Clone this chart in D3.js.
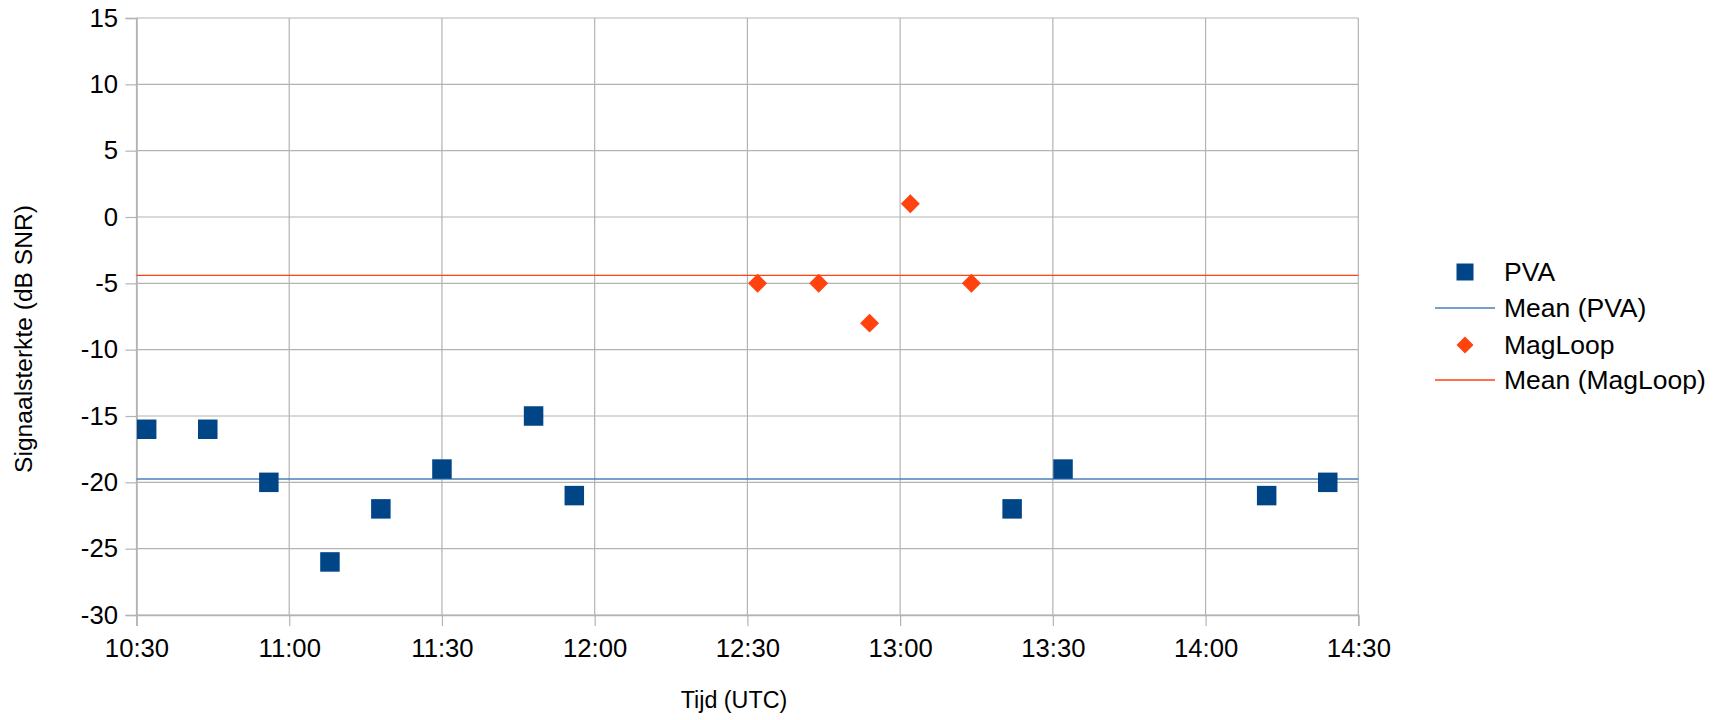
<!DOCTYPE html>
<html>
<head>
<meta charset="utf-8">
<script src="https://cdn.jsdelivr.net/npm/d3@7"></script>
<style>
  html, body { margin: 0; padding: 0; background: #fff; }
  svg { display: block; font-family: "Liberation Sans", Arial, sans-serif; }
</style>
</head>
<body>
<svg id="chart" width="1722" height="720"></svg>
<script>
// ---- data ----
const pvaTimes = ["10:32","10:44","10:56","11:08","11:18","11:30","11:48","11:56","13:22","13:32","14:12","14:24"];
const pvaValues = [-16,-16,-20,-26,-22,-19,-15,-21,-22,-19,-21,-20];
const magTimes = ["12:32","12:44","12:54","13:02","13:14"];
const magValues = [-5,-5,-8,1,-5];
const xTickLabels = ["10:30","11:00","11:30","12:00","12:30","13:00","13:30","14:00","14:30"];
const yTicks = [-30,-25,-20,-15,-10,-5,0,5,10,15];
const legendLabels = ["PVA","Mean (PVA)","MagLoop","Mean (MagLoop)"];

// ---- setup ----
const parse = s => { const [h,m] = s.split(":").map(Number); return new Date(Date.UTC(2020,0,1,h,m)); };
const svg = d3.select("#chart");
const L = 136.5, R = 1358.3, T = 18, B = 615;
const FS = 25.7;

const x = d3.scaleUtc().domain([parse("10:30"), parse("14:30")]).range([L, R]);
const y = d3.scaleLinear().domain([-30, 15]).range([B, T]);

const gridColor = "#b3b3b3";
const blue = "#004586", orange = "#ff420e";
const meanBlue = "#4a7ebb";

// grid
svg.append("g").selectAll("line").data(yTicks).join("line")
  .attr("x1", L).attr("x2", R).attr("y1", d => y(d)).attr("y2", d => y(d))
  .attr("stroke", gridColor).attr("stroke-width", 1.2);
svg.append("g").selectAll("line").data(xTickLabels.map(parse)).join("line")
  .attr("x1", d => x(d)).attr("x2", d => x(d)).attr("y1", T).attr("y2", B)
  .attr("stroke", gridColor).attr("stroke-width", 1.2);

// axes
const xAxis = d3.axisBottom(x).tickValues(xTickLabels.map(parse))
  .tickFormat(d3.utcFormat("%H:%M")).tickSize(11).tickPadding(13);
const gx = svg.append("g").attr("transform", `translate(0,${B})`).call(xAxis);
const yAxis = d3.axisLeft(y).tickValues(yTicks).tickFormat(d3.format("d")).tickSize(11).tickPadding(7.5);
const gy = svg.append("g").attr("transform", `translate(${L},0)`).call(yAxis);
[gx, gy].forEach(g => {
  g.select(".domain").attr("stroke", gridColor).attr("stroke-width", 1.6);
  g.selectAll(".tick line").attr("stroke", gridColor).attr("stroke-width", 1.2);
  g.selectAll(".tick text").attr("fill", "#000").style("font-size", FS + "px")
    .style("font-family", "'Liberation Sans', Arial, sans-serif");
});
gy.selectAll(".tick text").text(d => d < 0 ? "-" + Math.abs(d) : d);

// axis titles
svg.append("text").attr("x", 734).attr("y", 708).attr("text-anchor", "middle")
  .style("font-size", "23.3px").text("Tijd (UTC)");
svg.append("text").attr("transform", "translate(32,339) rotate(-90)").attr("text-anchor", "middle")
  .style("font-size", "24.6px").text("Signaalsterkte (dB SNR)");

// mean lines
const pvaMean = d3.mean(pvaValues), magMean = d3.mean(magValues);
svg.append("line").attr("x1", L).attr("x2", R).attr("y1", y(pvaMean)).attr("y2", y(pvaMean))
  .attr("stroke", meanBlue).attr("stroke-width", 1.6);
svg.append("line").attr("x1", L).attr("x2", R).attr("y1", y(magMean)).attr("y2", y(magMean))
  .attr("stroke", orange).attr("stroke-width", 1.4);

// points
const sq = d3.symbol(d3.symbolSquare, 380);
const dia = d3.symbol(d3.symbolSquare, 180);
svg.append("g").selectAll("path").data(pvaTimes.map((t,i) => [parse(t), pvaValues[i]])).join("path")
  .attr("d", sq).attr("fill", blue)
  .attr("transform", d => `translate(${x(d[0])},${y(d[1])})`);
svg.append("g").selectAll("path").data(magTimes.map((t,i) => [parse(t), magValues[i]])).join("path")
  .attr("d", dia).attr("fill", orange)
  .attr("transform", d => `translate(${x(d[0])},${y(d[1])}) rotate(45)`);

// legend
const legRows = [272, 308, 345, 380];
const lg = svg.append("g");
lg.append("path").attr("d", d3.symbol(d3.symbolSquare, 289)).attr("fill", blue)
  .attr("transform", `translate(1465,${legRows[0]})`);
lg.append("line").attr("x1", 1435).attr("x2", 1495).attr("y1", legRows[1]).attr("y2", legRows[1])
  .attr("stroke", meanBlue).attr("stroke-width", 1.6);
lg.append("path").attr("d", d3.symbol(d3.symbolSquare, 145)).attr("fill", orange)
  .attr("transform", `translate(1465,${legRows[2]}) rotate(45)`);
lg.append("line").attr("x1", 1435).attr("x2", 1495).attr("y1", legRows[3]).attr("y2", legRows[3])
  .attr("stroke", orange).attr("stroke-width", 1.4);
lg.selectAll("text").data(legendLabels).join("text")
  .attr("x", 1504).attr("y", (d,i) => legRows[i]).attr("dy", "0.35em")
  .style("font-size", "26.5px").text(d => d);
</script>
</body>
</html>
